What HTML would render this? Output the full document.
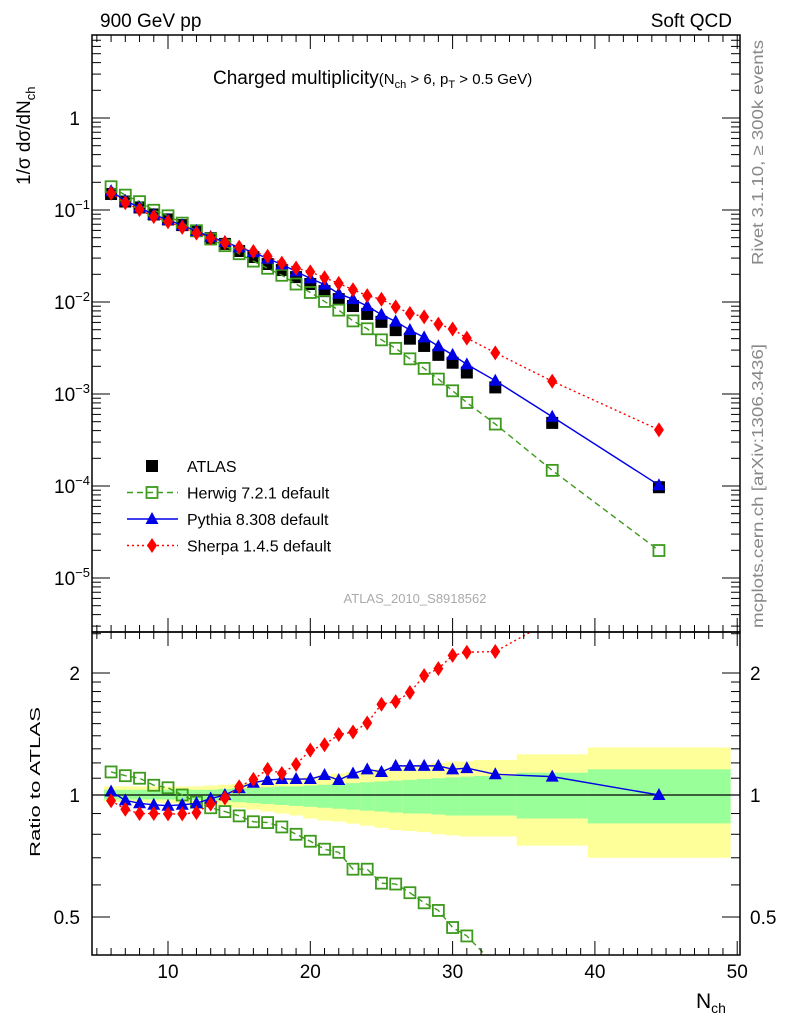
<!DOCTYPE html>
<html><head><meta charset="utf-8">
<style>
html,body{margin:0;padding:0;background:#fff;width:786px;height:1024px;overflow:hidden;}
svg{display:block;font-family:"Liberation Sans",sans-serif;}
</style></head>
<body>
<svg id="chart" width="786" height="1024" viewBox="0 0 786 1024" xmlns="http://www.w3.org/2000/svg">
<text x="100" y="27" font-size="19">900 GeV pp</text>
<text x="732" y="27" font-size="19" text-anchor="end">Soft QCD</text>
<text x="0" y="0" font-size="16" fill="#888" textLength="225" lengthAdjust="spacingAndGlyphs" transform="translate(763,265) rotate(-90)">Rivet 3.1.10, ≥ 300k events</text>
<text x="0" y="0" font-size="16" fill="#888" textLength="284" lengthAdjust="spacingAndGlyphs" transform="translate(763,628) rotate(-90)">mcplots.cern.ch [arXiv:1306.3436]</text>
<text x="213" y="84" font-size="19">Charged multiplicity<tspan font-size="15">(N</tspan><tspan font-size="11" dy="4">ch</tspan><tspan font-size="15" dy="-4"> &gt; 6, p</tspan><tspan font-size="11" dy="4">T</tspan><tspan font-size="15" dy="-4"> &gt; 0.5 GeV)</tspan></text>
<text x="415" y="603" font-size="13" fill="#aaa" text-anchor="middle">ATLAS_2010_S8918562</text>
<text transform="translate(30,185) rotate(-90)" font-size="19">1/σ dσ/dN<tspan font-size="13" dy="5">ch</tspan></text>
<text transform="translate(40,857) rotate(-90)" font-size="15" textLength="150" lengthAdjust="spacingAndGlyphs">Ratio to ATLAS</text>
<text x="696" y="1008" font-size="21">N<tspan font-size="14" dy="5">ch</tspan></text>
<g id="g"></g>
</svg>
<script>
const xs = [6,7,8,9,10,11,12,13,14,15,16,17,18,19,20,21,22,23,24,25,26,27,28,29,30,31,33,37,44.5];
const xLo = [5.5,6.5,7.5,8.5,9.5,10.5,11.5,12.5,13.5,14.5,15.5,16.5,17.5,18.5,19.5,20.5,21.5,22.5,23.5,24.5,25.5,26.5,27.5,28.5,29.5,30.5,31.5,34.5,39.5];
const xHi = [6.5,7.5,8.5,9.5,10.5,11.5,12.5,13.5,14.5,15.5,16.5,17.5,18.5,19.5,20.5,21.5,22.5,23.5,24.5,25.5,26.5,27.5,28.5,29.5,30.5,31.5,34.5,39.5,49.5];
const atlas = [0.157,0.130,0.112,0.094,0.083,0.072,0.062,0.052,0.045,0.0377,0.0324,0.0272,0.0234,0.0196,0.0165,0.0138,0.0113,0.0095,0.0078,0.0064,0.0052,0.0042,0.0035,0.0028,0.0023,0.0018,0.00124,0.00051,0.000102];
const herwigRatio = [1.14,1.116,1.10,1.057,1.042,1.0,0.96,0.93,0.91,0.888,0.859,0.855,0.834,0.80,0.769,0.735,0.722,0.656,0.656,0.606,0.603,0.574,0.542,0.519,0.471,0.449,0.38,0.29,0.195];
const pythiaRatio = [1.02,0.97,0.954,0.946,0.941,0.946,0.954,0.98,1.0,1.04,1.072,1.089,1.095,1.095,1.095,1.12,1.089,1.13,1.157,1.14,1.18,1.18,1.18,1.18,1.157,1.165,1.125,1.11,1.0];
const sherpaRatio = [0.968,0.922,0.90,0.90,0.898,0.898,0.905,0.95,0.983,1.048,1.093,1.157,1.13,1.19,1.29,1.33,1.41,1.43,1.505,1.675,1.70,1.79,1.97,2.05,2.21,2.25,2.26,2.7,4.0];
const yellowUp = [1.05,1.05,1.05,1.05,1.05,1.05,1.05,1.055,1.06,1.065,1.07,1.08,1.09,1.10,1.11,1.12,1.13,1.14,1.15,1.16,1.17,1.18,1.19,1.20,1.21,1.21,1.22,1.26,1.31];
const yellowDn = [0.963,0.962,0.96,0.958,0.955,0.953,0.95,0.945,0.94,0.93,0.92,0.91,0.90,0.89,0.875,0.865,0.86,0.85,0.84,0.83,0.82,0.815,0.81,0.80,0.795,0.79,0.79,0.75,0.70];
const greenUp = [1.03,1.03,1.03,1.03,1.03,1.03,1.03,1.03,1.035,1.04,1.04,1.045,1.05,1.05,1.055,1.06,1.065,1.07,1.075,1.08,1.085,1.09,1.095,1.10,1.105,1.11,1.114,1.135,1.157];
const greenDn = [0.975,0.975,0.975,0.975,0.975,0.975,0.972,0.97,0.965,0.96,0.955,0.95,0.945,0.94,0.935,0.93,0.925,0.92,0.915,0.91,0.905,0.90,0.90,0.895,0.89,0.89,0.89,0.875,0.851];
const xTicks = [10,20,30,40,50];
const yDecades = [0,-1,-2,-3,-4,-5];
const ratioTicks = [0.5,1,2];

const NS="http://www.w3.org/2000/svg";
const g=document.getElementById('g');
const L=92,R=740,MT=35,MB=632,RT=632,RB=955;
const X=v=>168+(v-10)*14.23;
const Y=v=>118-92*Math.log10(v);
const YR=r=>795-122*Math.log2(r);
function el(t,a,p){const e=document.createElementNS(NS,t);for(const k in a)e.setAttribute(k,a[k]);(p||g).appendChild(e);return e;}

const defs=el('defs',{});
const c1=el('clipPath',{id:'cm'},defs);el('rect',{x:L,y:MT,width:R-L,height:MB-MT},c1);
const c2=el('clipPath',{id:'cr'},defs);el('rect',{x:L,y:RT,width:R-L,height:RB-RT},c2);
const gm=el('g',{'clip-path':'url(#cm)'});
const gr=el('g',{'clip-path':'url(#cr)'});

for(let i=0;i<xs.length;i++){
  const yb=el('rect',{x:X(xLo[i]),y:YR(yellowUp[i]),width:X(xHi[i])-X(xLo[i])+0.5,height:YR(yellowDn[i])-YR(yellowUp[i]),fill:'#ffff99'},gr);
  
  
  const gb=el('rect',{x:X(xLo[i]),y:YR(greenUp[i]),width:X(xHi[i])-X(xLo[i])+0.5,height:YR(greenDn[i])-YR(greenUp[i]),fill:'#99ff99'},gr);
  
  
}
el('line',{x1:L,x2:R,y1:YR(1),y2:YR(1),stroke:'#000','stroke-width':1.2},gr);

const series=[
 {name:'herwig',r:herwigRatio,c:'#3d9a1d',dash:'6,4',m:'osq'},
 {name:'pythia',r:pythiaRatio,c:'#0000e6',dash:'',m:'tri'},
 {name:'sherpa',r:sherpaRatio,c:'#ff0000',dash:'2,3',m:'dia'}];
function marker(type,x,y,c,p){
  let e;
  if(type==='osq')e=el('rect',{x:x-5.5,y:y-5.5,width:11,height:11,fill:'none',stroke:c,'stroke-width':1.8},p);
  else if(type==='sq')e=el('rect',{x:x-6,y:y-6,width:12,height:12,fill:'#000'},p);
  else if(type==='tri')e=el('polygon',{points:`${x},${y-7} ${x-6.5},${y+5} ${x+6.5},${y+5}`,fill:c},p);
  else e=el('polygon',{points:`${x},${y-7.5} ${x-5},${y} ${x},${y+7.5} ${x+5},${y}`,fill:c},p);
  return e;
}
for(let i=0;i<xs.length;i++){
  const m=marker('sq',X(xs[i]),Y(atlas[i])+2,'#000',gm);
  
  
}
for(const s of series){
  const ptsM=xs.map((x,i)=>X(x)+','+Y(atlas[i]*s.r[i])).join(' ');
  const lm=el('polyline',{points:ptsM,fill:'none',stroke:s.c,'stroke-width':1.4,'stroke-dasharray':s.dash},gm);
  
  
  const ptsR=xs.map((x,i)=>X(x)+','+YR(s.r[i])).join(' ');
  const lr=el('polyline',{points:ptsR,fill:'none',stroke:s.c,'stroke-width':1.4,'stroke-dasharray':s.dash},gr);
  
  
  for(let i=0;i<xs.length;i++){
    const m=marker(s.m,X(xs[i]),Y(atlas[i]*s.r[i]),s.c,gm);
    
    
    const mr=marker(s.m,X(xs[i]),YR(s.r[i]),s.c,gr);
    
    
  }
}

el('rect',{x:L,y:MT,width:R-L,height:MB-MT,fill:'none',stroke:'#000','stroke-width':1.5});
el('rect',{x:L,y:RT,width:R-L,height:RB-RT,fill:'none',stroke:'#000','stroke-width':1.5});
for(let v=5;v<=50;v++){
  const big=v%10===0, len=big?14:7;
  for(const [t,b] of [[MT,MB],[RT,RB]]){
    el('line',{x1:X(v),x2:X(v),y1:b,y2:b-len,stroke:'#000','stroke-width':1});
    el('line',{x1:X(v),x2:X(v),y1:t,y2:t+len,stroke:'#000','stroke-width':1});
  }
}
for(const v of xTicks){
  const t=el('text',{x:X(v),y:978,'font-size':19,'text-anchor':'middle'});t.textContent=v;
  
  
}
for(let d=-6;d<=0;d++){
  for(let k=1;k<=9;k++){
    const y=Y(k*Math.pow(10,d));
    if(y<MT||y>MB)continue;
    const len=k===1?18:9;
    el('line',{x1:L,x2:L+len,y1:y,y2:y,stroke:'#000'});
    el('line',{x1:R,x2:R-len,y1:y,y2:y,stroke:'#000'});
  }
}
for(const d of yDecades){
  const y=Y(Math.pow(10,d));
  const t=el('text',{x:80,y:y+7,'font-size':19,'text-anchor':'end'});
  if(d===0)t.textContent='1';
  else{t.textContent='10';const s=el('tspan',{'font-size':13,dy:-8},t);s.textContent=String(d).replace('-','−');}
  if(d!==0)t.setAttribute('x',54);
  t.setAttribute('text-anchor',d===0?'end':'start');
  
  
}
const minorR=[0.4,0.5,0.6,0.7,0.8,0.9,1,1.1,1.2,1.3,1.4,1.5,1.6,1.7,1.8,1.9,2,2.5];
for(const r of minorR){
  const y=YR(r); if(y<RT||y>RB)continue;
  const big=ratioTicks.includes(r), len=big?18:9;
  el('line',{x1:L,x2:L+len,y1:y,y2:y,stroke:'#000'});
  el('line',{x1:R,x2:R-len,y1:y,y2:y,stroke:'#000'});
}
for(const r of ratioTicks){
  const t=el('text',{x:80,y:YR(r)+7,'font-size':19,'text-anchor':'end'});t.textContent=r;
  
  
  const t2=el('text',{x:750,y:YR(r)+7,'font-size':19});t2.textContent=r;
  
  
}
const leg=[['ATLAS','sq','#000',''],['Herwig 7.2.1 default','osq','#3d9a1d','6,4'],['Pythia 8.308 default','tri','#0000e6',''],['Sherpa 1.4.5 default','dia','#ff0000','2,3']];
leg.forEach((l,i)=>{
  const y=466+i*26.5;
  const lg=el('g',{});
  
  
  if(i>0)el('line',{x1:127,x2:178,y1:y,y2:y,stroke:l[2],'stroke-width':1.4,'stroke-dasharray':l[3]},lg);
  marker(l[1],152,y,l[2],lg);
  const t=el('text',{x:187,y:y+6,'font-size':16},lg);t.textContent=l[0];
});
</script>
</body></html>
